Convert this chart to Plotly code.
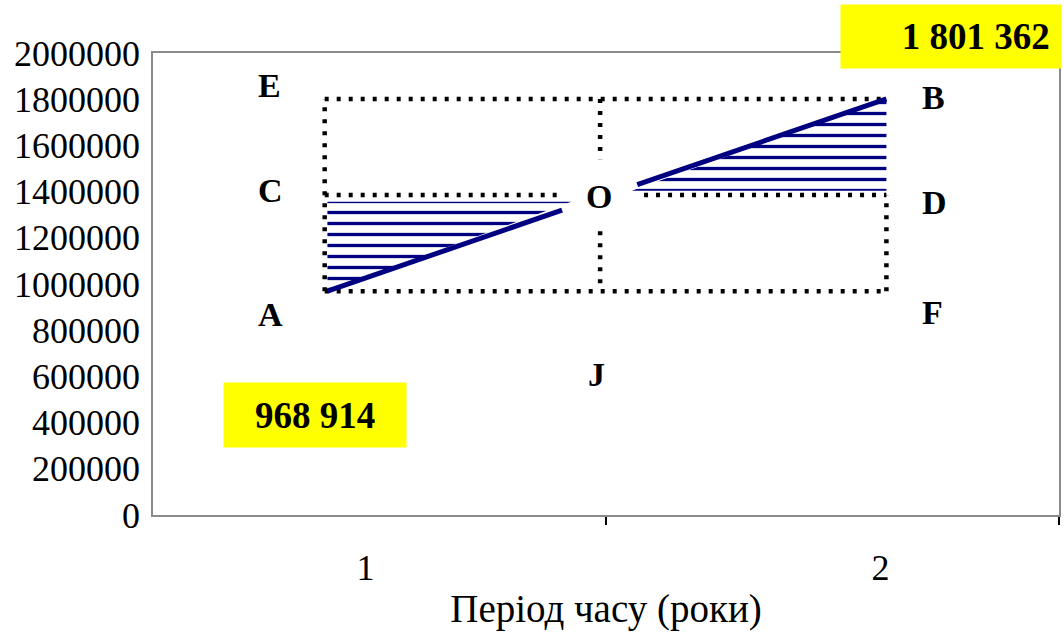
import plotly.graph_objects as go

# ---- data ----
years = ["1", "2"]
values = [968914, 1801362]          # A (year 1) and B (year 2)
mid_value = 1385138                 # O level (C / D)
line1_end = 1320000                 # end of left trend segment
line2_start = 1430000               # start of right trend segment
hatch1_top = 1356000
hatch2_bottom = 1404000
gap_top = 1540000                   # vertical dotted line gap around O
gap_bottom = 1228000
letters = ["G", "E", "B", "C", "O", "D", "A", "F", "J"]
letter_x = [0.993, 0.258, 1.722, 0.260, 0.985, 1.725, 0.260, 1.720, 0.980]
letter_y = [2121000, 1861000, 1809000, 1404000, 1378000, 1352000, 870000, 878000, 609000]

# ---- positions along the x axis (axis spans 0..2) ----
x_left, x_mid, x_right = 0.379, 0.987, 1.619
x_l1a, x_l1b = 0.385, 0.903
x_l2a = 1.069
x_h1b = 0.923
x_h2a = 1.057
x_cend, x_dstart = 0.903, 1.084
tick_label_x = [0.469, 1.606]

FONT = "Liberation Serif"
NAVY = "#000080"

fig = go.Figure()

def dotted(xs, ys):
    fig.add_trace(go.Scatter(x=xs, y=ys, mode="lines",
                             line=dict(color="black", width=4.5, dash="4px,8px"),
                             hoverinfo="skip", showlegend=False))

pattern = dict(shape="-", size=11, solidity=0.3, fgcolor="#000080", fgopacity=1,
               bgcolor="white")

# hatched triangles
fig.add_trace(go.Scatter(
    x=[x_l1a, x_l1a, x_h1b, x_l1a], y=[values[0], hatch1_top, hatch1_top, values[0]],
    mode="lines", fill="toself", line=dict(width=0), fillcolor="white",
    fillpattern=pattern, hoverinfo="skip", showlegend=False))
fig.add_trace(go.Scatter(
    x=[x_h2a, x_right, x_right, x_h2a], y=[hatch2_bottom, hatch2_bottom, values[1], hatch2_bottom],
    mode="lines", fill="toself", line=dict(width=0), fillcolor="white",
    fillpattern=pattern, hoverinfo="skip", showlegend=False))

# dotted frame
dotted([x_left, x_right], [values[1], values[1]])
dotted([x_left, x_right], [values[0], values[0]])
dotted([x_left, x_left], [values[0], values[1]])
dotted([x_right, x_right], [values[0], mid_value])
dotted([x_mid, x_mid], [values[1], gap_top])
dotted([x_mid, x_mid], [gap_bottom, values[0]])
dotted([x_left, x_cend], [mid_value, mid_value])
dotted([x_dstart, x_right], [mid_value, mid_value])

# trend segments
fig.add_trace(go.Scatter(x=[x_l1a, x_l1b], y=[values[0], line1_end], mode="lines",
                         line=dict(color=NAVY, width=5), hoverinfo="skip", showlegend=False))
fig.add_trace(go.Scatter(x=[x_l2a, x_right], y=[line2_start, values[1]], mode="lines",
                         line=dict(color=NAVY, width=5), hoverinfo="skip", showlegend=False))

# letters
for t, lx, ly in zip(letters, letter_x, letter_y):
    fig.add_annotation(x=lx, y=ly, text=f"<b>{t}</b>", showarrow=False,
                       font=dict(family=FONT, size=34, color="black"))

def fmt(v):
    return f"{v:,}".replace(",", " ")

# yellow value boxes
fig.add_annotation(xref="paper", yref="paper", x=1.0033, y=(515 - 4) / 462, xanchor="right", yanchor="top",
                   text=f"<b>{fmt(values[1])}\u00a0</b>", showarrow=False, bgcolor="#ffff00",
                   width=216, height=59, align="right", borderpad=2,
                   font=dict(family=FONT, size=37, color="black"))
fig.add_annotation(xref="paper", yref="paper", x=(223 - 153) / 908, y=(515 - 382) / 462,
                   xanchor="left", yanchor="top",
                   text=f"<b>{fmt(values[0])}</b>", showarrow=False, bgcolor="#ffff00",
                   width=178, height=60, align="center", borderpad=2,
                   font=dict(family=FONT, size=37, color="black"))

fig.update_layout(
    width=1064, height=635,
    margin=dict(l=153, r=3, t=53, b=120),
    paper_bgcolor="white", plot_bgcolor="white",
    font=dict(family=FONT, size=36, color="black"),
    xaxis=dict(range=[0, 2], tickvals=tick_label_x, ticktext=years, ticks="",
               showgrid=False, zeroline=False, showline=True, mirror=True,
               linecolor="#8a8a8a", linewidth=1.5,
               ticklabelstandoff=20,
               minor=dict(tickvals=[1, 2], ticks="outside", ticklen=8,
                          tickcolor="black", tickwidth=1.5, showgrid=False),
               title=dict(text="Період часу (роки)", standoff=8,
                          font=dict(family=FONT, size=39))),
    yaxis=dict(range=[0, 2000000], dtick=200000, tickformat="d", ticks="",
               showgrid=False, zeroline=False, showline=True, mirror=True,
               linecolor="#8a8a8a", linewidth=1.5, ticklabelstandoff=4),
)

fig.write_html("out.html")
